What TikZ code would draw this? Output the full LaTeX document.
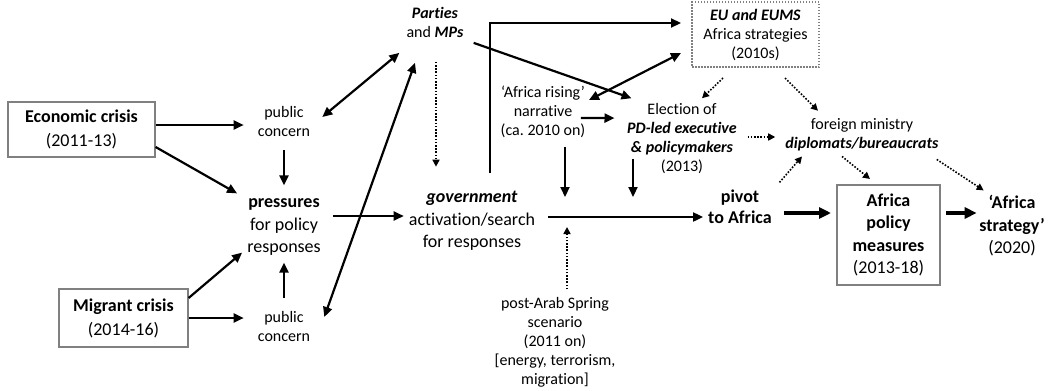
\documentclass[tikz,border=0pt]{standalone}
\usepackage{fontspec}
\setmainfont{Carlito}[Ligatures={TeX,NoCommon}]
\usepackage{tikz}
\usetikzlibrary{arrows.meta}
\tikzset{>={Triangle[length=10pt,width=9pt]}}
\tikzset{%
    txt/.style={align=center, inner sep=5pt, font=\fontsize{16}{19}\selectfont},
    bigtxt/.style={txt, font=\fontsize{18}{22.5}\selectfont},
    pub/.style={txt, inner xsep=14pt},
    crisis/.style={bigtxt, draw=gray, line width=1.2pt, font=\fontsize{18}{24}\selectfont},
    eubox/.style={txt, draw=gray, line width=1.2pt, dash pattern=on 1.5pt off 1.5pt,
        minimum width=127pt, minimum height=65pt, outer sep=11pt},
    policybox/.style={bigtxt, draw=gray, line width=1.4pt,
        minimum width=103pt, minimum height=100pt, outer sep=6pt},
    link/.style={line width=2.2pt},
    biglink/.style={line width=3.2pt, -{Triangle[length=12pt,width=11pt]}},
    dotlink/.style={line width=1.6pt, dash pattern=on 1.6pt off 1.6pt, -{Triangle[length=7pt,width=7pt]}}
}

\begin{document}
\frenchspacing
\begin{tikzpicture}[x=1pt,y=-1pt]
    \useasboundingbox (0,0) rectangle (1050,391);
    \node[crisis, minimum width=147pt, minimum height=55pt] (econ) at (81.5,129.5) {\textbf{Economic crisis}\\(2011-13)};
    \node[crisis, minimum width=129pt, minimum height=58pt] (migr) at (123.5,318) {\textbf{Migrant crisis}\\(2014-16)};
    \node[pub] (pubtop) at (284,121) {public\\concern};
    \node[bigtxt, inner xsep=8pt] (press) at (284,227) {\textbf{pressures}\\for policy\\responses};
    \node[pub] (pubbot) at (284,326) {public\\concern};
    \node[txt] (parties) at (435,22.5) {\textbf{\textit{Parties}}\\and \textbf{\textit{MPs}}};
    \node[bigtxt] (gov) at (472,221) {\textbf{\textit{government}}\\activation/search\\for responses};
    \node[txt] (rising) at (543,112) {‘Africa rising’\\narrative\\(ca. 2010 on)};
    \node[txt] (elect) at (682,138.6) {Election of\\\textbf{\textit{PD-led executive}}\\\textbf{\textit{\& policymakers}}\\(2013)};
    \node[eubox] (eu) at (755.5,34.5) {\textbf{\textit{EU and EUMS}}\\Africa strategies\\(2010s)};
    \node[txt] (foreign) at (862,135) {foreign ministry\\\textbf{\textit{diplomats/bureaucrats}}};
    \node[bigtxt, font=\fontsize{18}{21}\selectfont\bfseries] (pivot) at (740,206.5) {pivot\\to Africa};
    \node[policybox] (policy) at (888.5,235) {\textbf{Africa}\\\textbf{policy}\\\textbf{measures}\\(2013-18)};
    \node[bigtxt] (strat) at (1012,226) {\textbf{‘Africa}\\\textbf{strategy’}\\(2020)};
    \node[txt] (arab) at (555,342.4) {post-Arab Spring\\scenario\\(2011 on)\\{}[energy, terrorism,\\migration]};

    \draw[link,->] ([yshift=4.5pt]econ.east) -- ([yshift=-4pt]pubtop.west);
    \draw[link,->] ([yshift=-17.5pt]econ.east) -- ([xshift=-2pt]press.north west);
    \draw[link,->] ([yshift=-9pt]pubtop.south) -- ([yshift=8pt]press.north);
    \draw[link,->] ([yshift=20pt]migr.east) -- ([xshift=3pt,yshift=8pt]press.south west);
    \draw[link,->] (migr.east) -- ([yshift=8pt]pubbot.west);
    \draw[link,->] ([yshift=8pt]pubbot.north) -- ([yshift=-2pt]press.south);
    \draw[link,<->] ([xshift=-2pt,yshift=4pt]pubtop.east) -- ([xshift=-2pt,yshift=-10pt]parties.south west);
    \draw[link,<->] ([yshift=9pt]pubbot.east) -- ([xshift=-20pt,yshift=-20pt]parties.south);
    \draw[dotlink] ([xshift=1pt,yshift=-19pt]parties.south) -- ([xshift=-36pt,yshift=19.5pt]gov.north);
    \draw[link,->] ([xshift=4pt,yshift=11pt]press.east) -- ([yshift=5pt]gov.west);
    \draw[link,->] ([xshift=18pt,yshift=13.5pt]gov.north) |- ([yshift=11.5pt]eu.west);
    \draw[link,->] ([xshift=5pt]parties.south east) -- ([xshift=9.5pt]elect.north west);
    \draw[link,<->] ([xshift=-1.5pt,yshift=12pt]rising.east) -- ([yshift=-18.5pt]eu.west);
    \draw[link,->] ([xshift=-9.5pt,yshift=-6pt]rising.east) -- ([xshift=-7.5pt,yshift=20.5pt]elect.west);
    \draw[link,->] ([xshift=8pt,yshift=4pt]gov.east) coordinate (mainl) -- (mainl -| pivot.west);
    \draw[link,->] ([xshift=22pt,yshift=-3.5pt]rising.south) coordinate (r1) -- ([yshift=20pt]r1 |- mainl);
    \draw[link,->] ([xshift=-49pt,yshift=19.5pt]elect.south) coordinate (e1) -- ([yshift=20pt]e1 |- mainl);
    \draw[dotlink] ([xshift=12pt,yshift=2.8pt]arab.north) coordinate (a1) -- ([yshift=-10pt]a1 |- mainl);
    \draw[dotlink] ([xshift=-32.5pt]eu.south) -- ([xshift=20pt]elect.north);
    \draw[dotlink] ([xshift=29.5pt]eu.south) -- ([xshift=-44pt,yshift=2.8pt]foreign.north);
    \draw[dotlink] ([xshift=5.5pt,yshift=1.6pt]elect.east) -- ([xshift=-5pt,yshift=-2pt]foreign.west);
    \draw[dotlink] ([xshift=2.5pt,yshift=2pt]pivot.north east) -- ([xshift=-60pt]foreign.south);
    \draw[dotlink] ([xshift=-20pt]foreign.south) -- ([xshift=-18.5pt]policy.north);
    \draw[dotlink] ([xshift=-7pt,yshift=-3pt]foreign.south east) -- ([xshift=9.5pt]strat.north west);
    \draw[biglink] ([xshift=7.5pt,yshift=-6.5pt]pivot.east) -- ([yshift=22pt]policy.west);
    \draw[biglink] ([yshift=22pt]policy.east) -- ([xshift=2.5pt,yshift=13pt]strat.west);
\end{tikzpicture}
\end{document}
